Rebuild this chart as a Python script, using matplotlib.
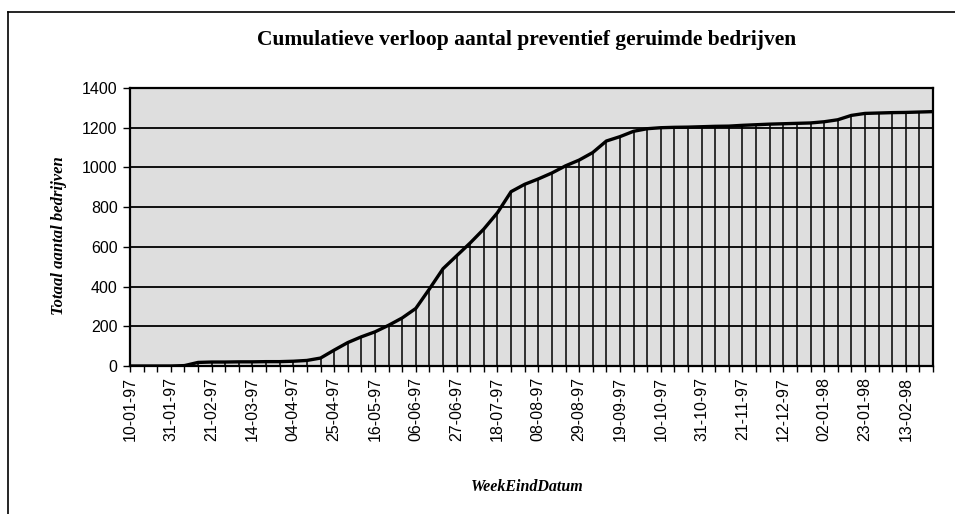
import matplotlib
matplotlib.use("Agg")
import matplotlib.pyplot as plt
from matplotlib.lines import Line2D
import numpy as np
import pandas as pd

# week end dates (weekly, from 10-01-97)
week_end = pd.date_range("1997-01-10", periods=60, freq="7D")
week_labels = [d.strftime("%d-%m-%y") for d in week_end]

# cumulative number of preventively cleared farms
cumulative = [0, 0, 0, 0, 2, 18, 20, 20, 21, 21,
              22, 22, 24, 28, 40, 80, 118, 147, 172, 205,
              242, 290, 388, 490, 555, 620, 690, 772, 878, 915,
              942, 972, 1008, 1037, 1075, 1133, 1155, 1182, 1195, 1200,
              1202, 1203, 1205, 1207, 1208, 1212, 1215, 1218, 1220, 1222,
              1224, 1230, 1240, 1262, 1272, 1274, 1276, 1277, 1279, 1281]

title = "Cumulatieve verloop aantal preventief geruimde bedrijven"
y_title = "Totaal aantal bedrijven"
x_title = "WeekEindDatum"

W, H = 955, 514
fig = plt.figure(figsize=(W / 100, H / 100), dpi=100)

# plot area in pixels: left 130, right 933, top 88, bottom 366
ax = fig.add_axes([130 / W, 1 - 366 / H, (933 - 130) / W, (366 - 88) / H])
ax.set_facecolor("#dedede")

x = np.arange(len(cumulative))
ax.vlines(x, 0, cumulative, color="black", lw=1.1, zorder=2)
ax.plot(x, cumulative, color="black", lw=2.4, solid_joinstyle="round",
        solid_capstyle="round", zorder=3)

ax.set_xlim(0, len(cumulative) - 1)
ax.set_ylim(0, 1400)
ax.set_yticks(range(0, 1401, 200))
ax.yaxis.grid(True, color="black", lw=1.3)
ax.set_axisbelow(True)

ax.set_xticks(x)
ax.set_xticklabels([lab if i % 3 == 0 else "" for i, lab in enumerate(week_labels)],
                   rotation=90, family="Liberation Sans", fontsize=11.5)
for lab in ax.get_yticklabels():
    lab.set_family("Liberation Sans")
    lab.set_fontsize(11.5)

ax.tick_params(axis="x", direction="out", length=4, width=1, pad=4)
ax.tick_params(axis="y", direction="out", length=5, width=1, pad=4)
for sp in ax.spines.values():
    sp.set_linewidth(1.6)

fig.text(527 / W, 1 - 40 / H, title, ha="center", va="center",
         family="Liberation Serif", fontweight="bold", fontsize=15.5)
fig.text(59 / W, 1 - 236 / H, y_title, ha="center", va="center", rotation=90,
         family="Liberation Serif", fontweight="bold", style="italic", fontsize=12)
fig.text(527 / W, 1 - 487 / H, x_title, ha="center", va="center",
         family="Liberation Serif", fontweight="bold", style="italic", fontsize=11.5)

# frame around the chart (top and left edges visible)
fig.add_artist(Line2D([8 / W, 1], [1 - 12 / H, 1 - 12 / H], color="black", lw=1.2,
                      transform=fig.transFigure))
fig.add_artist(Line2D([8 / W, 8 / W], [0, 1 - 12 / H], color="black", lw=1.2,
                      transform=fig.transFigure))

fig.savefig("out.png", dpi=100)
